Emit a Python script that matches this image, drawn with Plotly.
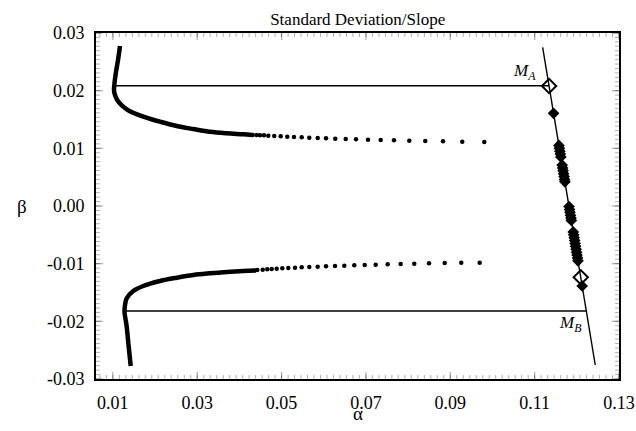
import plotly.graph_objects as go

# ---- data ----
upper_curve_alpha = [0.01169, 0.01122, 0.01074, 0.01034, 0.01027, 0.01050, 0.01129, 0.01328,
                     0.01721, 0.02117, 0.02513, 0.02907, 0.03303, 0.03699, 0.04092, 0.04298]
upper_curve_beta = [0.02774, 0.02532, 0.02324, 0.02098, 0.02011, 0.01925, 0.01809, 0.01677,
                    0.01548, 0.01462, 0.01387, 0.01335, 0.01288, 0.01261, 0.01243, 0.01231]

upper_dots_alpha = [0.04315, 0.04410, 0.04488, 0.04583, 0.04685, 0.04827, 0.04979, 0.05135,
                    0.05294, 0.05477, 0.05657, 0.05856, 0.06053, 0.06273, 0.06520, 0.06764,
                    0.07049, 0.07350, 0.07665, 0.08028, 0.08407, 0.08827, 0.09284, 0.09806]
upper_dots_beta = [0.01231, 0.01231, 0.01226, 0.01226, 0.01219, 0.01214, 0.01209, 0.01202,
                   0.01196, 0.01191, 0.01184, 0.01179, 0.01174, 0.01167, 0.01162, 0.01157,
                   0.01150, 0.01144, 0.01139, 0.01133, 0.01127, 0.01122, 0.01115, 0.01110]

lower_curve_alpha = [0.01423, 0.01371, 0.01323, 0.01276, 0.01288, 0.01328, 0.01484, 0.01721,
                     0.02117, 0.02513, 0.02907, 0.03303, 0.03699, 0.04092, 0.04393]
lower_curve_beta = [-0.02774, -0.02410, -0.02063, -0.01838, -0.01717, -0.01600, -0.01474, -0.01387,
                    -0.01301, -0.01243, -0.01196, -0.01167, -0.01144, -0.01127, -0.01118]

lower_dots_alpha = [0.04424, 0.04552, 0.04661, 0.04765, 0.04884, 0.05017, 0.05159, 0.05318,
                    0.05477, 0.05657, 0.05856, 0.06053, 0.06266, 0.06487, 0.06724, 0.06970,
                    0.07231, 0.07516, 0.07824, 0.08146, 0.08495, 0.08867, 0.09260, 0.09697]
lower_dots_beta = [-0.01110, -0.01105, -0.01098, -0.01092, -0.01087, -0.01080, -0.01075, -0.01070,
                   -0.01063, -0.01058, -0.01053, -0.01046, -0.01040, -0.01035, -0.01028, -0.01023,
                   -0.01018, -0.01011, -0.01006, -0.01001, -0.00994, -0.00988, -0.00983, -0.00983]

hline_A_alpha = [0.01027, 0.11340]
hline_A_beta = [0.02086, 0.02086]
hline_B_alpha = [0.01288, 0.12217]
hline_B_beta = [-0.01821, -0.01821]

slope_alpha = [0.11190, 0.12437]
slope_beta = [0.02752, -0.02757]

open_marks_alpha = [0.11342, 0.12093]
open_marks_beta = [0.02081, -0.01236]

filled_marks_alpha = [0.11449, 0.12127,
                      0.11575, 0.11587, 0.11598, 0.11609, 0.11621,
                      0.11652, 0.11664, 0.11675, 0.11686, 0.11698, 0.11709, 0.11718,
                      0.11815, 0.11827, 0.11838, 0.11849, 0.11861, 0.11870,
                      0.11915, 0.11926, 0.11937, 0.11949, 0.11960, 0.11971,
                      0.11983, 0.11994, 0.12005, 0.12017, 0.12028]
filled_marks_beta = [0.01607, -0.01387,
                     0.0105, 0.0100, 0.0095, 0.0090, 0.0085,
                     0.0071, 0.0066, 0.0061, 0.0056, 0.0051, 0.0046, 0.0042,
                     -0.0001, -0.0006, -0.0011, -0.0016, -0.0021, -0.0025,
                     -0.0045, -0.0050, -0.0055, -0.0060, -0.0065, -0.0070,
                     -0.0075, -0.0080, -0.0085, -0.0090, -0.0095]

x_tickvals = [0.01, 0.03, 0.05, 0.07, 0.09, 0.11, 0.13]
x_ticktext = ["0.01", "0.03", "0.05", "0.07", "0.09", "0.11", "0.13"]
y_tickvals = [-0.03, -0.02, -0.01, 0.0, 0.01, 0.02, 0.03]
y_ticktext = ["-0.03", "-0.02", "-0.01", "0.00", "0.01", "0.02", "0.03"]

X_RANGE = [0.006, 0.13]
Y_RANGE = [-0.03, 0.03]

FONT = "Liberation Serif"

fig = go.Figure()
thin = dict(color="black", width=1.4)
fig.add_trace(go.Scatter(x=hline_A_alpha, y=hline_A_beta, mode="lines", line=thin))
fig.add_trace(go.Scatter(x=hline_B_alpha, y=hline_B_beta, mode="lines", line=thin))
fig.add_trace(go.Scatter(x=slope_alpha, y=slope_beta, mode="lines", line=thin))

fig.add_trace(go.Scatter(x=upper_curve_alpha, y=upper_curve_beta, mode="lines",
                         line=dict(color="black", width=4.5, shape="spline")))
fig.add_trace(go.Scatter(x=lower_curve_alpha, y=lower_curve_beta, mode="lines",
                         line=dict(color="black", width=4.5, shape="spline")))
dot = dict(color="black", size=4.5)
fig.add_trace(go.Scatter(x=upper_dots_alpha, y=upper_dots_beta, mode="markers", marker=dot))
fig.add_trace(go.Scatter(x=lower_dots_alpha, y=lower_dots_beta, mode="markers", marker=dot))

fig.add_trace(go.Scatter(x=filled_marks_alpha, y=filled_marks_beta, mode="markers",
                         marker=dict(symbol="diamond", color="black", size=9,
                                     line=dict(color="black", width=0))))
fig.add_trace(go.Scatter(x=open_marks_alpha, y=open_marks_beta, mode="markers",
                         marker=dict(symbol="diamond-open", color="black", size=11,
                                     line=dict(color="black", width=2))))

fig.add_annotation(x=0.11079, y=0.02324, text="<i>M</i><sub><i>A</i></sub>", showarrow=False,
                   xanchor="right", yanchor="middle", font=dict(family=FONT, size=17, color="black"))
fig.add_annotation(x=0.11838, y=-0.02046, text="<i>M</i><sub><i>B</i></sub>", showarrow=False,
                   xanchor="center", yanchor="middle", font=dict(family=FONT, size=17, color="black"))

# axis titles (beta upright)
fig.add_annotation(xref="paper", yref="paper", x=-0.142, y=0.5, text="β", showarrow=False,
                   xanchor="center", yanchor="middle", font=dict(family=FONT, size=19, color="black"))
fig.add_annotation(xref="paper", yref="paper", x=0.5, y=-0.1, text="α", showarrow=False,
                   xanchor="center", yanchor="middle", font=dict(family=FONT, size=19, color="black"))

# ---- inward tick marks on all four sides, drawn as axis-anchored shapes ----
PLOT_W = 636 - 96 - 17
PLOT_H = 431 - 33 - 52
MAJ, MIN = 7, 4
x_minor = []
v = X_RANGE[0]
step = 0.02 / 13
k = -3
while True:
    val = 0.01 + k * step
    if val > X_RANGE[1] + 1e-9:
        break
    if val >= X_RANGE[0] - 1e-9:
        x_minor.append(val)
    k += 1
y_minor = []
ystep = 0.01 / 13
k = -78
while True:
    val = k * ystep
    if val > Y_RANGE[1] + 1e-9:
        break
    if val >= Y_RANGE[0] - 1e-9:
        y_minor.append(val)
    k += 1

tick_shapes = []
def xtick(val, length, width):
    h = length / PLOT_H
    tick_shapes.append(dict(type="line", xref="x", yref="paper", x0=val, x1=val, y0=0, y1=h,
                            line=dict(color="black", width=width)))
    tick_shapes.append(dict(type="line", xref="x", yref="paper", x0=val, x1=val, y0=1 - h, y1=1,
                            line=dict(color="black", width=width)))
def ytick(val, length, width):
    w = length / PLOT_W
    tick_shapes.append(dict(type="line", xref="paper", yref="y", x0=0, x1=w, y0=val, y1=val,
                            line=dict(color="black", width=width)))
    tick_shapes.append(dict(type="line", xref="paper", yref="y", x0=1 - w, x1=1, y0=val, y1=val,
                            line=dict(color="black", width=width)))

for val in x_minor:
    xtick(val, MIN, 1)
for val in x_tickvals:
    xtick(val, MAJ, 1.3)
for val in y_minor:
    ytick(val, MIN, 1)
for val in y_tickvals:
    ytick(val, MAJ, 1.3)

axis_common = dict(showline=True, linecolor="black", linewidth=2, mirror=True,
                   ticks="", showgrid=False, zeroline=False, automargin=False,
                   ticklabelstandoff=6,
                   tickfont=dict(family=FONT, size=18, color="black"))

fig.update_xaxes(range=X_RANGE, tickmode="array", tickvals=x_tickvals, ticktext=x_ticktext,
                 **axis_common)
fig.update_yaxes(range=Y_RANGE, tickmode="array", tickvals=y_tickvals, ticktext=y_ticktext,
                 **axis_common)

fig.update_layout(
    template="simple_white",
    width=636, height=431,
    margin=dict(l=96, r=17, t=33, b=52),
    paper_bgcolor="white", plot_bgcolor="white",
    showlegend=False,
    shapes=tick_shapes,
    title=dict(text="Standard Deviation/Slope", x=0.5625, xanchor="center",
               y=0.956, yanchor="middle", yref="container",
               font=dict(family=FONT, size=17, color="black")),
)

fig.write_html("out.html", config={"displayModeBar": False},
               post_script="document.body.style.margin='0px';document.body.style.overflow='hidden';")
